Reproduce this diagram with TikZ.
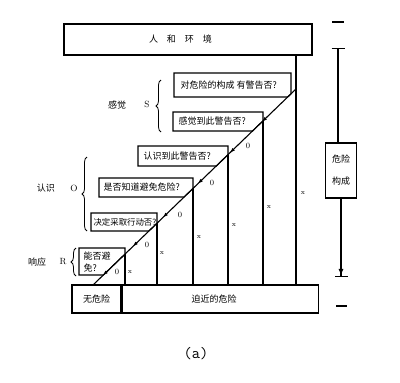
\documentclass[tikz,border=0pt]{standalone}
\usepackage{fontspec}
\usepackage{tikz}
\usetikzlibrary{arrows.meta, decorations.pathreplacing, decorations.markings}
\newfontfamily\cjk{Noto Sans CJK SC}
\tikzset{
    bigbox/.style={rectangle, draw, line width=1.2pt, inner sep=0pt, font=\cjk\fontsize{9}{11}\selectfont},
    qtext/.style={anchor=west, inner sep=0pt, align=left, font=\cjk\fontsize{9}{12}\selectfont},
    sidelbl/.style={inner sep=0pt, font=\cjk\fontsize{9}{11}\selectfont},
    letter/.style={inner sep=0pt, font=\fontsize{9}{9}\selectfont},
    yeslbl/.style={inner sep=0pt, font=\fontsize{8}{8}\selectfont},
    nolbl/.style={inner sep=0pt, font=\fontsize{7}{7}\selectfont},
    sidebrace/.style={decorate, decoration={brace, amplitude=5pt}, line width=0.8pt},
    flowtips/.style={postaction={decorate}, decoration={markings,
        mark=at position 0.167 with {\arrow{Latex[length=5pt,width=3.6pt]}},
        mark=at position 0.325 with {\arrow{Latex[length=5pt,width=3.6pt]}},
        mark=at position 0.483 with {\arrow{Latex[length=5pt,width=3.6pt]}},
        mark=at position 0.655 with {\arrow{Latex[length=5pt,width=3.6pt]}},
        mark=at position 0.803 with {\arrow{Latex[length=5pt,width=3.6pt]}},
        mark=at position 0.951 with {\arrow{Latex[length=5pt,width=3.6pt]}}}}
}

\begin{document}
\begin{tikzpicture}[x=1pt, y=-1pt, line width=1.1pt]
  \useasboundingbox (0,0) rectangle (400,383);
  % top and bottom boxes
  \node[bigbox, minimum width=248, minimum height=31] (env) at (188,39.5) {人\quad 和\quad 环\quad 境\kern15pt};
  \node[bigbox, minimum width=49, minimum height=28] (safe) at (96.5,299) {无危险};
  \node[bigbox, minimum width=196, minimum height=28, anchor=west] (danger) at (safe.east) {迫近的危险\kern12pt};
  % the diagonal and the junctions on it
  \coordinate (dtop) at (296,89);
  \coordinate (dbot) at (93,285);
  \coordinate (j2) at (263,120.9);
  \coordinate (j3) at (228,154.7);
  \coordinate (j4) at (193,188.4);
  \coordinate (j5) at (157,223.2);
  \coordinate (j6) at (125,254.1);
  % question boxes
  \node[qtext] (q1) at (180,85) {对危险的构成 有警告否?};
  \draw (174,73) -- (291,73) -- (291,93.8) -- (287.7,97) -- (174,97) -- cycle;
  \node[qtext] (q2) at (178,121.5) {感觉到此警告否?};
  \draw (173,112) -- (263,112) -- (j2) -- (252.5,131) -- (173,131) -- cycle;
  \node[qtext] (q3) at (143,156) {认识到此警告否?};
  \draw (138,146) -- (228,146) -- (j3) -- (216.3,166) -- (138,166) -- cycle;
  \node[qtext] (q4) at (103,187.5) {是否知道避免危险?};
  \draw (99,178) -- (193,178) -- (j4) -- (184.1,197) -- (99,197) -- cycle;
  \node[qtext, font=\cjk\fontsize{8.4}{12}\selectfont] (q5) at (93,222) {决定采取行动否?};
  \draw (91,213) -- (157,213) -- (j5) -- (148.9,231) -- (91,231) -- cycle;
  \node[qtext] (q6) at (83,262) {能否避\\免?};
  \draw (79,248) -- (125,248) -- (j6) -- (103.4,275) -- (79,275) -- cycle;
  % connectors
  \draw (env.south -| dtop) -- (danger.north -| dtop);
  \draw[flowtips] (dtop) -- (dbot);
  \draw (j2) -- (j2 |- danger.north);
  \draw (j3) -- (j3 |- danger.north);
  \draw (j4) -- (j4 |- danger.north);
  \draw (j5) -- (j5 |- danger.north);
  \draw (j6) -- (j6 |- danger.north);
  % yes / no marks
  \node[nolbl] (n1) at (303,193) {x};
  \node[nolbl] (n2) at (269,207) {x};
  \node[nolbl] (n3) at (234,225) {x};
  \node[nolbl] (n4) at (199,237) {x};
  \node[nolbl] (n5) at (162,253) {x};
  \node[nolbl] (n6) at (130,272) {x};
  \node[yeslbl] (y2) at (248,146) {0};
  \node[yeslbl] (y3) at (212,183) {0};
  \node[yeslbl] (y4) at (180,215) {0};
  \node[yeslbl] (y5) at (147,245) {0};
  \node[yeslbl] (y6) at (117,272) {0};
  % stages on the left
  \node[sidelbl] (sense) at (117,105) {感觉};
  \node[letter] (s) at (147,104) {S};
  \draw[sidebrace] (161,132) -- (161,80);
  \node[sidelbl] (know) at (46,188) {认识};
  \node[letter] (o) at (74,188) {O};
  \draw[sidebrace] (87,231) -- (87,157);
  \node[sidelbl] (react) at (37,262) {响应};
  \node[letter] (r) at (63,262) {R};
  \draw[sidebrace] (76,276) -- (76,248);
  % danger build-up scale
  \node[bigbox, minimum width=31, minimum height=55, font=\cjk\fontsize{9}{22}\selectfont, align=center] (risk) at (341,170.5) {危险\\构成};
  \coordinate (rtop) at (338,48);
  \coordinate (rbot) at (341,277);
  \draw[{Bar[width=13pt]}-] (rtop) -- (rtop |- risk.north);
  \draw[-{Latex[length=7pt,width=5pt]Bar[width=13pt]}] (risk.south) -- (rbot);
  \draw (332,22) -- (344,22);
  \draw (336,306) -- (347,306);
  \node[font=\ttfamily\fontsize{16}{16}\selectfont] (cap) at (196,354) {(a)};
\end{tikzpicture}
\end{document}
